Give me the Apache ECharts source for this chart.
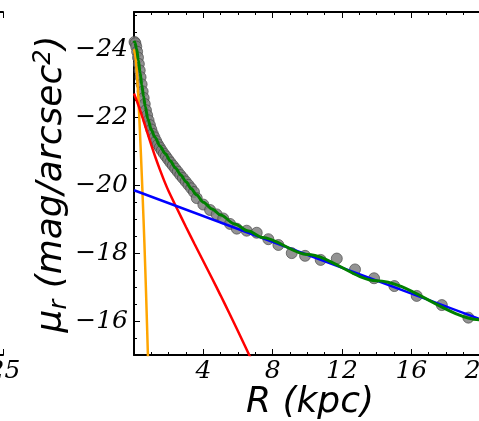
<!DOCTYPE html>
<html>
<head>
<meta charset="utf-8">
<script src="https://cdn.jsdelivr.net/npm/echarts@6/dist/echarts.min.js"></script>
<style>
html, body { margin: 0; padding: 0; background: #fff; }
#chart { width: 479px; height: 421px; }
</style>
</head>
<body>
<div id="chart"></div>
<script>
// surface brightness profile: R in kpc, mu_r in mag/arcsec^2
var obsR = [0.03, 0.08, 0.13, 0.18, 0.23, 0.28, 0.33, 0.38, 0.44, 0.50, 0.56, 0.62, 0.69, 0.76, 0.84, 0.92,
    1.00, 1.09, 1.18, 1.28, 1.38, 1.49, 1.60, 1.72, 1.84, 1.97, 2.10, 2.24, 2.38, 2.52, 2.67, 2.82, 2.98,
    3.14, 3.30, 3.46, 3.62, 4.00, 4.39, 4.77, 5.15, 5.54, 5.93, 6.50, 7.08, 7.75, 8.33, 9.10, 9.87,
    10.77, 11.70, 12.75, 13.85, 15.02, 16.31, 17.76, 19.29];
var obsMu = [-24.22, -24.18, -24.08, -23.93, -23.76, -23.57, -23.38, -23.18, -22.97, -22.76, -22.57, -22.39,
    -22.21, -22.06, -21.91, -21.77, -21.64, -21.51, -21.41, -21.30, -21.20, -21.11, -21.02, -20.93, -20.85,
    -20.76, -20.67, -20.58, -20.49, -20.40, -20.30, -20.21, -20.11, -20.01, -19.91, -19.80, -19.62, -19.43,
    -19.27, -19.14, -19.02, -18.86, -18.72, -18.66, -18.60, -18.41, -18.24, -18.00, -17.92, -17.80, -17.84,
    -17.52, -17.26, -17.03, -16.74, -16.47, -16.10];

// total fit (green)
var fitR = [0, 0.05, 0.15, 0.25, 0.35, 0.45, 0.55, 0.65, 0.8, 1.0, 1.2, 1.5, 1.8, 2.1, 2.4, 2.7, 3.0, 3.3,
    3.6, 4.0, 4.5, 5.0, 5.8, 6.6, 7.4, 10, 14, 20, 24];
var fitMu = [-24.25, -24.2, -24.02, -23.68, -23.32, -22.95, -22.62, -22.32, -21.95, -21.63, -21.42, -21.15,
    -20.93, -20.71, -20.5, -20.3, -20.1, -19.9, -19.72, -19.5, -19.3, -19.12, -18.86, -18.65, -18.46, -17.96,
    -17.19, -16.04, -15.28];

// disk (blue)
var diskR = [0, 24];
var diskMu = [-19.85, -15.29];

// bulge (red)
var bulgeR = [0, 0.25, 0.5, 0.75, 1.0, 1.25, 1.5, 1.75, 2.0, 2.5, 3.0, 3.5, 4.0, 4.5, 5.0, 5.5, 6.0, 6.6, 7.2];
var bulgeMu = [-22.7, -22.36, -21.98, -21.58, -21.18, -20.8, -20.45, -20.12, -19.82, -19.29, -18.77, -18.26,
    -17.76, -17.26, -16.75, -16.23, -15.7, -15.05, -14.4];

// nucleus (orange)
var coreR = [0, 0.1, 0.2, 0.3, 0.4, 0.5, 0.6, 0.7, 0.8, 0.9];
var coreMu = [-24.0, -23.72, -23.05, -22.05, -20.9, -19.65, -18.3, -16.75, -15.05, -13.3];

var yMajor = [-24, -22, -20, -18, -16];
var yMinor = [-25, -24.5, -23.5, -23, -22.5, -21.5, -21, -20.5, -19.5, -19, -18.5, -17.5, -17, -16.5, -15.5];

function pairs(xs, ys) {
    var out = [];
    for (var i = 0; i < xs.length; i++) {
        out.push([xs[i], ys[i]]);
    }
    return out;
}

var tickFont = {fontFamily: 'DejaVu Serif', fontStyle: 'italic', fontSize: 25, color: '#000'};
var black = {color: '#000', width: 2};

function xAx(grid, pos, max, step, labels, pad) {
    return {
        type: 'value', gridIndex: grid, position: pos, min: 0, max: max, interval: step,
        axisLine: {lineStyle: black},
        axisTick: {inside: true, length: 6, lineStyle: {color: '#000', width: 1}},
        minorTick: {show: true, splitNumber: step === 4 ? 4 : 5, length: 3, lineStyle: {color: '#000', width: 1}},
        splitLine: {show: false},
        axisLabel: labels ? Object.assign({show: true, margin: 4, showMinLabel: false, padding: pad || 0}, tickFont) : {show: false}
    };
}

function yAx(grid, pos, major, labels) {
    return {
        type: 'value', gridIndex: grid, position: pos, inverse: true, min: -25.1, max: -15, offset: 0,
        axisLine: {show: major, lineStyle: black},
        axisTick: {inside: true, length: major ? 6 : 3, customValues: major ? yMajor : yMinor,
            lineStyle: {color: '#000', width: 1}},
        splitLine: {show: false},
        axisLabel: labels ? Object.assign({
            show: true, margin: 6, customValues: yMajor,
            formatter: function (v) { return String(v).replace('-', '\u2212'); }
        }, tickFont) : {show: false}
    };
}

var chart = echarts.init(document.getElementById('chart'));
var option = {
    animation: false,
    backgroundColor: '#fff',
    grid: [
        {left: 134, top: 12, width: 416, height: 343, containLabel: false, outerBoundsMode: 'none'},
        {left: -400, top: 12, width: 403, height: 343, containLabel: false, outerBoundsMode: 'none'}
    ],
    xAxis: [
        xAx(0, 'bottom', 24, 4, true),
        xAx(0, 'top', 24, 4, false),
        xAx(1, 'bottom', 25, 5, true, [0, 0, 0, 3]),
        xAx(1, 'top', 25, 5, false)
    ],
    yAxis: [
        yAx(0, 'left', true, true),
        yAx(0, 'left', false, false),
        yAx(1, 'right', true, false),
        yAx(1, 'right', false, false)
    ],
    series: [
        {
            type: 'line', name: 'nucleus', xAxisIndex: 0, yAxisIndex: 0, data: pairs(coreR, coreMu),
            showSymbol: false, smooth: 0.3, lineStyle: {color: '#ffa500', width: 2.5}
        },
        {
            type: 'line', name: 'bulge', xAxisIndex: 0, yAxisIndex: 0, data: pairs(bulgeR, bulgeMu),
            showSymbol: false, smooth: 0.3, lineStyle: {color: '#ff0000', width: 2.5}
        },
        {
            type: 'line', name: 'disk', xAxisIndex: 0, yAxisIndex: 0, data: pairs(diskR, diskMu),
            showSymbol: false, lineStyle: {color: '#0000ff', width: 2.5}
        },
        {
            type: 'scatter', name: 'data', xAxisIndex: 0, yAxisIndex: 0, data: pairs(obsR, obsMu),
            symbolSize: 11,
            itemStyle: {color: '#808080', opacity: 0.85, borderColor: '#444', borderWidth: 0.8}
        },
        {
            type: 'line', name: 'total', xAxisIndex: 0, yAxisIndex: 0, data: pairs(fitR, fitMu),
            showSymbol: false, smooth: 0.3, smoothMonotone: 'x', lineStyle: {color: '#008000', width: 3}
        }
    ],
    graphic: [
        {
            type: 'text', x: 310, y: 403,
            style: {
                text: 'R (kpc)', font: 'italic 36px "DejaVu Sans"', fill: '#000',
                align: 'center', verticalAlign: 'middle', textAlign: 'center', textVerticalAlign: 'middle'
            }
        },
        {
            type: 'text', x: 52, y: 184, rotation: Math.PI / 2,
            style: {
                text: '{a|\u03bc}{s|r}{a| (mag/arcsec}{p|2}{a|)}',
                fill: '#000',
                align: 'center', verticalAlign: 'middle', textAlign: 'center', textVerticalAlign: 'middle',
                rich: {
                    a: {fontFamily: 'DejaVu Sans', fontStyle: 'italic', fontSize: 36, lineHeight: 40, color: '#000'},
                    s: {fontFamily: 'DejaVu Sans', fontStyle: 'italic', fontSize: 24, lineHeight: 24, verticalAlign: 'bottom', color: '#000'},
                    p: {fontFamily: 'DejaVu Sans', fontStyle: 'italic', fontSize: 24, lineHeight: 24, verticalAlign: 'top', color: '#000'}
                }
            }
        }
    ]
};
chart.setOption(option);
</script>
</body>
</html>
